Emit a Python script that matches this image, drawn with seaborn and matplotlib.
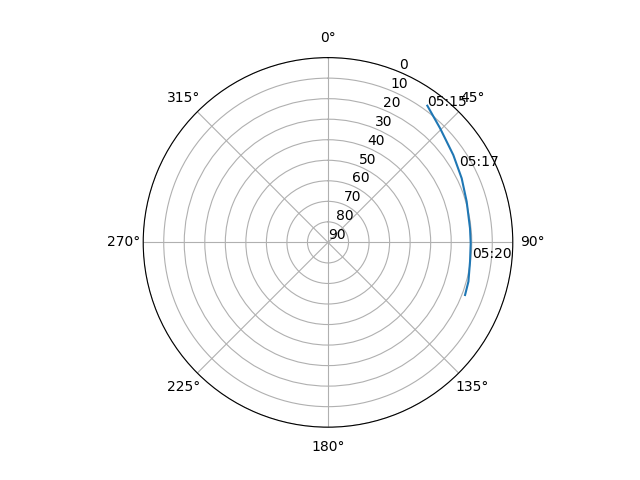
import numpy as np
import seaborn as sns
import matplotlib
matplotlib.use('Agg')
import matplotlib.pyplot as plt

# satellite pass: azimuth (deg, clockwise from north) and elevation (deg)
azimuth = [36.0, 44.5, 55.1, 64.4, 73.6, 84.3, 90.3, 97.7, 105.6, 111.0]
elevation = [7.7, 12.1, 15.6, 17.8, 19.6, 20.5, 20.5, 20.2, 19.0, 18.5]

# time marks along the track
label_times = ['05:15', '05:17', '05:20']
label_az = [36.0, 59.8, 96.1]
label_el = [7.7, 16.0, 19.6]

fig = plt.figure(figsize=(6.4, 4.8), dpi=100)
ax = fig.add_subplot(111, projection='polar')
ax.set_theta_zero_location('N')
ax.set_theta_direction(-1)

sns.lineplot(x=np.radians(azimuth), y=elevation, ax=ax, sort=False)

for t, a, e in zip(label_times, label_az, label_el):
    ax.text(np.radians(a), e, t)

ax.set_rlim(90, 0)
ax.set_yticks(range(0, 91, 10))
ax.set_xlabel('')
ax.set_ylabel('')

plt.savefig('out.png', dpi=100)
